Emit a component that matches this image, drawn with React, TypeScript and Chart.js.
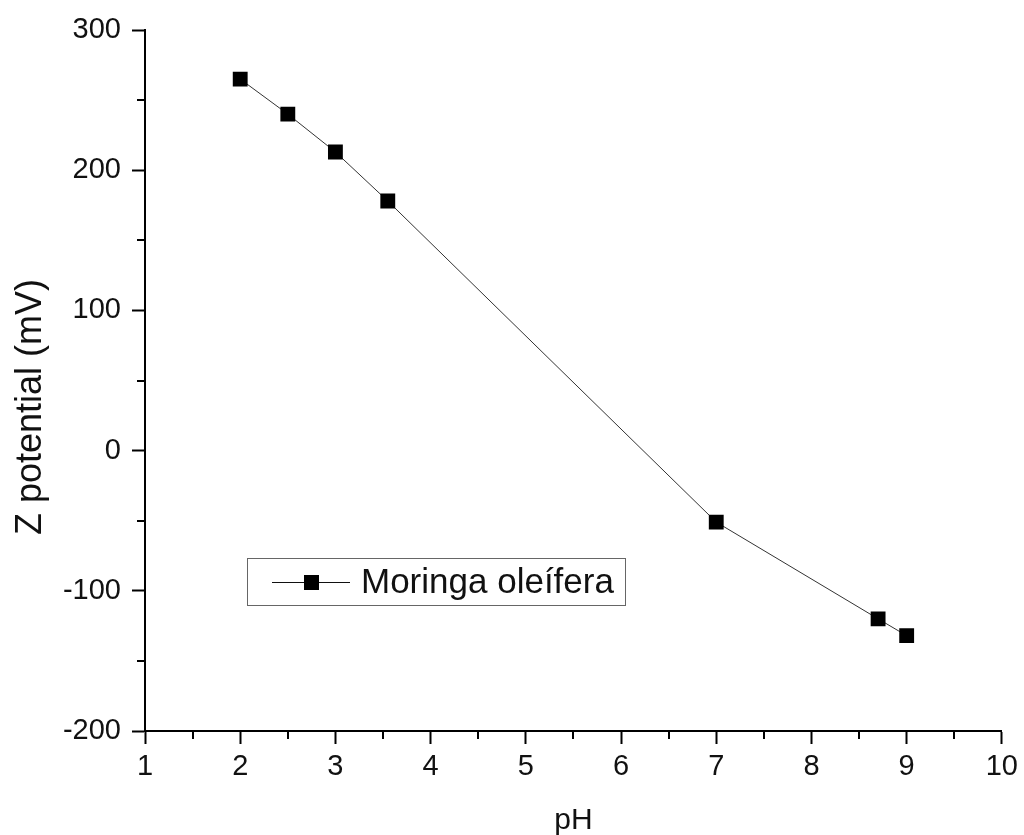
import React, { useEffect, useRef } from "react";
import { Chart, registerables } from "chart.js";

Chart.register(...registerables);

const phValues = [2, 2.5, 3, 3.55, 7, 8.7, 9];
const zetaValues = [265, 240, 213, 178, -51, -120, -132];
const seriesLabel = "Moringa oleífera";
const yTitle = "Z potential (mV)";
const xTitle = "pH";
const xMinorTicks = [1.5, 2.5, 3.5, 4.5, 5.5, 6.5, 7.5, 8.5, 9.5];
const yMinorTicks = [-150, -50, 50, 150, 250];

const FONT = "'Liberation Sans', Arial, sans-serif";

const minorTicksPlugin = {
  id: "minorTicks",
  afterDraw(chart: any) {
    const { ctx, scales, chartArea } = chart;
    ctx.save();
    ctx.strokeStyle = "#000";
    ctx.lineWidth = 2;
    ctx.beginPath();
    for (const v of xMinorTicks) {
      const x = Math.round(scales.x.getPixelForValue(v));
      ctx.moveTo(x, chartArea.bottom);
      ctx.lineTo(x, chartArea.bottom + 8);
    }
    for (const v of yMinorTicks) {
      const y = Math.round(scales.y.getPixelForValue(v));
      ctx.moveTo(chartArea.left, y);
      ctx.lineTo(chartArea.left - 8, y);
    }
    ctx.stroke();
    ctx.restore();
  },
};

const yTitlePlugin = {
  id: "yTitle",
  afterDraw(chart: any) {
    const { ctx } = chart;
    ctx.save();
    ctx.translate(31, 407);
    ctx.rotate(-Math.PI / 2);
    ctx.font = `36px ${FONT}`;
    ctx.fillStyle = "#111";
    ctx.textAlign = "center";
    ctx.textBaseline = "middle";
    ctx.fillText(yTitle, 0, 0);
    ctx.restore();
  },
};

const customLegendPlugin = {
  id: "customLegend",
  afterDraw(chart: any) {
    const { ctx } = chart;
    const label = chart.data.datasets[0].label;
    ctx.save();
    ctx.strokeStyle = "#666";
    ctx.lineWidth = 1;
    ctx.strokeRect(247.5, 558.5, 378, 47);
    const cy = 582;
    ctx.strokeStyle = "#111";
    ctx.beginPath();
    ctx.moveTo(272, cy + 0.5);
    ctx.lineTo(350, cy + 0.5);
    ctx.stroke();
    ctx.fillStyle = "#000";
    ctx.fillRect(304, cy - 7, 15, 15);
    ctx.font = `35px ${FONT}`;
    ctx.fillStyle = "#111";
    ctx.textBaseline = "middle";
    ctx.textAlign = "left";
    ctx.fillText(label, 361, cy + 1);
    ctx.restore();
  },
};

export default function App() {
  const canvasRef = useRef<HTMLCanvasElement | null>(null);

  useEffect(() => {
    document.body.style.margin = "0";
    const canvas = canvasRef.current;
    if (!canvas) return;
    const chart = new Chart(canvas, {
      type: "line",
      data: {
        datasets: [
          {
            label: seriesLabel,
            data: phValues.map((x, i) => ({ x, y: zetaValues[i] })),
            borderColor: "#333",
            borderWidth: 1,
            pointStyle: "rect",
            pointRadius: 10.5,
            pointBackgroundColor: "#000",
            pointBorderColor: "#000",
            pointBorderWidth: 0,
            tension: 0,
            fill: false,
          },
        ],
      },
      options: {
        animation: false,
        responsive: true,
        maintainAspectRatio: false,
        layout: { padding: { top: 30, right: 21, left: 0, bottom: 0 } },
        plugins: {
          legend: { display: false },
          tooltip: { enabled: false },
        },
        scales: {
          x: {
            type: "linear",
            min: 1,
            max: 10,
            afterFit(scale: any) {
              scale.height = 104;
            },
            border: { display: true, color: "#000", width: 2 },
            grid: {
              drawOnChartArea: false,
              drawTicks: true,
              tickLength: 13,
              tickWidth: 2,
              tickColor: "#000",
            },
            ticks: {
              stepSize: 1,
              color: "#111",
              padding: 6,
              font: { family: FONT, size: 29 },
              maxRotation: 0,
              autoSkip: false,
            },
            title: {
              display: true,
              text: xTitle,
              color: "#111",
              font: { family: FONT, size: 30, lineHeight: 0.95 },
              padding: { top: 0, bottom: 0 },
            },
          },
          y: {
            type: "linear",
            min: -200,
            max: 300,
            afterFit(scale: any) {
              scale.width = 145;
            },
            border: { display: true, color: "#000", width: 2 },
            grid: {
              drawOnChartArea: false,
              drawTicks: true,
              tickLength: 13,
              tickWidth: 2,
              tickColor: "#000",
            },
            ticks: {
              stepSize: 100,
              color: "#111",
              padding: 11,
              font: { family: FONT, size: 29 },
              autoSkip: false,
            },
          },
        },
      },
      plugins: [minorTicksPlugin, yTitlePlugin, customLegendPlugin],
    });
    return () => chart.destroy();
  }, []);

  return (
    <div style={{ position: "relative", width: 1024, height: 835 }}>
      <canvas ref={canvasRef} />
    </div>
  );
}
